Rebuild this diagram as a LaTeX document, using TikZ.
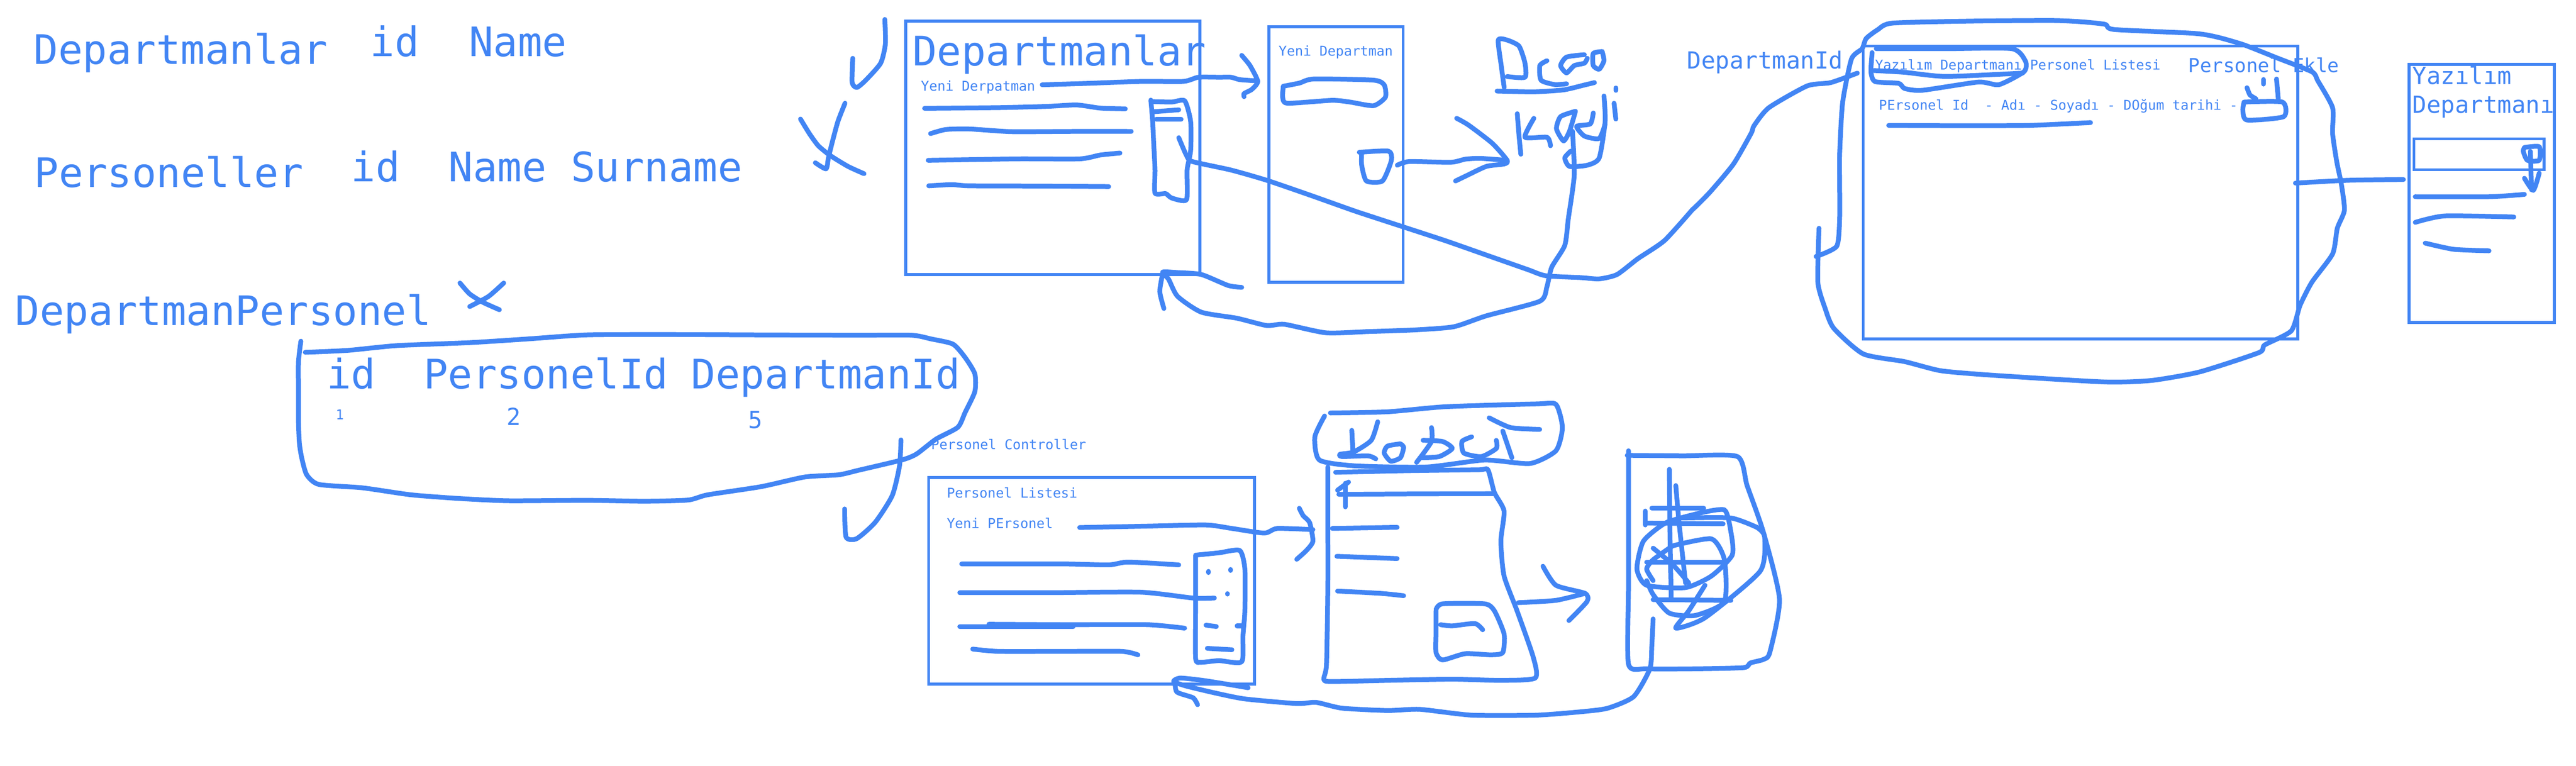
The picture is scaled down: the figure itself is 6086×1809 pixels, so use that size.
\documentclass[tikz,border=0pt]{standalone}
\usepackage{fontspec}
\setmainfont{DejaVu Sans Mono}
\definecolor{ink}{HTML}{4285F4}
\tikzset{
  hand/.style={draw=ink,line width=3.2pt,line cap=round,line join=round},
  frame/.style={draw=ink,line width=2pt},
  lbl/.style={inner sep=0pt,outer sep=0pt,anchor=base west,text=ink},
  big/.style={lbl,font=\fontsize{27.3}{30}\selectfont},
  mid/.style={lbl,font=\fontsize{15.8}{18}\selectfont},
  sml/.style={lbl,font=\fontsize{12.95}{15}\selectfont},
  tin/.style={lbl,font=\fontsize{9.1}{11}\selectfont},
  zA/.style={shift={(0,0)},xscale=1.2755,yscale=.574},
  zB/.style={shift={(1800,0)},xscale=1.403,yscale=.574},
  zC/.style={shift={(3900,0)},xscale=1.3947,yscale=.606},
  zD/.style={shift={(1900,950)},xscale=1.531,yscale=.548},
  zE/.style={shift={(650,750)},xscale=1.148,yscale=.3508},
}
\newcommand{\sk}[1]{\draw[hand] plot[smooth,tension=.38] coordinates {#1};}
\begin{document}
\begin{tikzpicture}[x=0.01cm,y=-0.01cm]
\useasboundingbox (0,0) rectangle (6086,1809);
\fill[white] (0,0) rectangle (6086,1809);

% texts
\node[big] (t1) at (80,152) {Departmanlar};
\node[big] (t2) at (875,133) {id};
\node[big] (t3) at (1108,133) {Name};
\node[big] (t4) at (81,443) {Personeller};
\node[big] (t5) at (830,429) {id};
\node[big] (t6) at (1060,429) {Name Surname};
\node[big] (t7) at (36,769) {DepartmanPersonel};
\node[big] (t8) at (772,918) {id};
\node[big] (t9) at (1001,918) {PersonelId};
\node[big] (t10) at (1633,918) {DepartmanId};
\node[tin] (n1) at (793,992) {1};
\node[mid] (n2) at (1197,1005) {2};
\node[mid] (n5) at (1768,1012) {5};

\node[big] (r1t) at (2156,155) {Departmanlar};
\node[tin] (r1y) at (2176,215) {Yeni Derpatman};
\node[tin] (r2y) at (3021,132) {Yeni Departman};
\node[mid] (did) at (3986,162) {DepartmanId};
\node[tin] (r3t) at (4430,165) {Yazılım Departmanı Personel Listesi};
\node[sml] (r3e) at (5170,171) {Personel Ekle};
\node[tin] (r3h) at (4439,260) {PErsonel Id~~- Adı - Soyadı - DOğum tarihi -};
\node[mid] (r4a) at (5700,199) {Yazılım};
\node[mid] (r4b) at (5700,267) {Departmanı};
\node[tin] (pc) at (2200,1062) {Personel Controller};
\node[tin] (pl) at (2237,1177) {Personel Listesi};
\node[tin] (yp) at (2237,1248) {Yeni PErsonel};

% frames
\draw[frame] (2140,50) rectangle (2835,649);
\draw[frame] (2998,63) rectangle (3315,667);
\draw[frame] (4402,109) rectangle (5429,801);
\draw[frame] (5692,152) rectangle (6035,762);
\draw[frame] (5703,328) rectangle (6010,401);
\draw[frame] (2194,1128) rectangle (2964,1616);

% X near DepartmanPersonel
\begin{scope}[zA]
\sk{(852,1165)(870,1210)(895,1245)(925,1275)}
\sk{(933,1165)(905,1220)(870,1262)}
\end{scope}

% blob around id row
\begin{scope}[zE]
\sk{(62,235)(150,222)(250,190)(400,170)(520,145)(640,118)(800,115)(1000,118)(1200,120)(1310,120)(1350,145)(1395,180)(1420,270)(1440,380)(1440,500)(1420,640)(1405,740)(1360,820)(1320,920)(1290,960)(1200,1030)(1160,1060)(1090,1075)(1000,1140)(890,1195)(850,1230)(760,1238)(640,1232)(480,1235)(380,1220)(280,1195)(180,1148)(90,1125)(65,1060)(55,950)(50,850)(48,700)(48,500)(48,300)(53,160)}
\sk{(1288,825)(1285,1000)(1270,1200)(1235,1380)(1197,1490)(1175,1480)(1172,1290)}
\end{scope}

% top middle
\begin{scope}[zB]
\sk{(207,80)(208,180)(200,260)(175,330)(160,360)(152,340)(153,240)}
\sk{(65,490)(80,550)(95,600)(115,640)(145,685)(172,715)}
\sk{(140,425)(128,500)(118,590)(112,650)(108,695)(90,670)}
\sk{(274,446)(400,443)(480,438)(530,432)(570,445)(612,448)}
\sk{(284,550)(310,533)(350,531)(420,542)(520,541)(622,541)}
\sk{(280,660)(430,654)(535,654)(570,638)(603,630)}
\sk{(281,765)(320,760)(350,765)(470,766)(584,768)}
\sk{(472,349)(550,343)(640,335)(710,335)(735,318)(770,318)(790,318)(805,328)(835,333)}
\sk{(808,228)(822,270)(835,335)(825,368)(812,385)(812,398)}
\sk{(655,412)(658,500)(660,600)(662,700)(662,795)(680,797)(690,815)(715,822)(716,700)(722,620)(722,500)(712,415)(690,420)(655,418)}
\sk{(660,460)(702,452)}
\sk{(664,491)(706,491)}
\sk{(702,567)(715,640)(725,665)(790,700)(850,742)(925,805)(1000,870)(1075,930)(1150,990)(1220,1050)(1290,1110)(1320,1135)(1380,1143)(1410,1148)(1440,1130)(1475,1065)(1520,990)(1568,860)}
\sk{(1365,540)(1368,720)(1358,900)(1352,1010)(1330,1100)(1322,1180)(1310,1240)(1220,1300)(1165,1345)(1100,1358)(1020,1365)(950,1370)(880,1335)(850,1340)(800,1310)(740,1285)(700,1220)(685,1150)(675,1120)(700,1122)(740,1130)(785,1175)(808,1183)}
\sk{(675,1125)(670,1200)(677,1270)}
\sk{(1070,680)(1090,665)(1160,668)(1185,655)(1210,652)(1255,660)}
\sk{(1170,487)(1190,515)(1230,590)(1255,660)(1250,675)(1220,685)(1185,725)(1168,745)}
\sk{(1006,627)(1055,622)(1060,660)(1045,745)(1018,745)(1010,680)(1010,630)}
\sk{(878,355)(905,342)(930,325)(1030,330)(1048,350)(1050,400)(1030,435)(990,420)(960,413)(885,425)(877,400)(878,355)}
% handwriting
\sk{(1250,360)(1245,270)(1240,165)(1255,165)(1275,190)(1285,260)(1285,318)(1255,315)}
\sk{(1238,375)(1300,378)(1350,370)(1385,350)(1402,340)}
\sk{(1322,250)(1310,270)(1312,330)(1335,348)(1355,345)}
\sk{(1385,225)(1355,235)(1345,270)(1355,300)(1368,270)(1385,260)(1390,240)}
\sk{(1415,212)(1400,220)(1400,270)(1410,285)(1418,250)(1415,212)}
\sk{(1438,362)(1438,372)}
\sk{(1272,468)(1275,560)(1278,635)}
\sk{(1300,487)(1285,565)(1322,565)(1328,600)}
\sk{(1370,458)(1345,480)(1338,530)(1350,580)(1360,540)(1370,458)}
\sk{(1418,395)(1420,500)(1410,650)(1390,680)(1360,685)(1352,650)(1362,622)}
\sk{(1400,465)(1395,510)(1372,520)(1385,560)(1410,570)(1420,510)}
\sk{(1435,425)(1438,490)}
\end{scope}

% top right
\begin{scope}[zC]
\sk{(72,815)(100,750)(140,640)(170,520)(175,490)(200,420)(265,335)(305,322)(350,285)}
\sk{(285,890)(283,1100)(295,1200)(310,1280)(360,1380)(430,1410)(490,1445)(560,1460)(680,1478)(780,1490)(850,1483)(930,1450)(1030,1375)(1040,1345)(1085,1290)(1100,1190)(1120,1100)(1155,990)(1163,890)(1175,820)(1170,720)(1162,630)(1155,520)(1155,420)(1130,315)(1120,280)(1060,225)(1005,175)(960,145)(920,130)(785,115)(770,95)(730,85)(680,80)(550,82)(410,90)(385,115)(365,150)(358,190)(340,230)(325,400)(320,600)(320,720)(320,850)(315,960)(280,1000)}
\sk{(382,190)(500,190)(612,190)(635,240)(632,280)(590,330)(555,320)(460,352)(430,345)(420,325)(380,318)(373,280)(375,205)}
\sk{(378,275)(430,282)(500,298)(630,285)}
\sk{(403,489)(520,490)(640,489)(745,478)}
\sk{(1005,398)(1070,398)(1072,455)(1010,468)(1003,430)(1005,398)}
\sk{(1010,342)(1015,370)(1025,385)}
\sk{(1038,310)(1038,328)}
\sk{(1060,308)(1063,385)}
\sk{(1092,714)(1180,703)(1275,700)}
\sk{(1295,767)(1420,767)(1480,758)}
\sk{(1295,867)(1345,842)(1462,846)}
\sk{(1312,948)(1360,972)(1420,978)}
\sk{(1480,575)(1505,572)(1505,625)(1485,625)(1478,590)(1480,575)}
\sk{(1490,590)(1492,740)}
\sk{(1480,695)(1495,742)(1505,675)}
\end{scope}

% bottom
\begin{scope}[zD]
\sk{(243,698)(400,698)(470,702)(500,690)(578,702)}
\sk{(240,822)(380,822)(520,820)(600,845)(633,845)}
\sk{(240,968)(415,968)}
\sk{(285,958)(410,960)(530,960)(587,975)}
\sk{(260,1065)(300,1075)(400,1075)(490,1075)(515,1090)}
\sk{(425,541)(530,535)(620,530)(660,545)(710,565)(730,545)(785,550)}
\sk{(764,458)(770,490)(780,520)(785,600)(775,640)(760,678)}
\sk{(604,660)(640,650)(672,640)(680,720)(680,900)(677,1010)(675,1120)(640,1115)(612,1122)(604,1105)(604,880)(604,660)}
\sk{(624,730)(624,735)}
\sk{(658,722)(658,726)}
\sk{(653,826)(653,828)}
\sk{(620,962)(636,968)}
\sk{(668,965)(675,965)}
\sk{(622,1062)(660,1068)}
\sk{(1310,935)(1308,1050)(1305,1150)(1280,1270)(1240,1320)(1200,1335)(1130,1350)(1030,1350)(950,1325)(900,1330)(830,1320)(790,1295)(760,1300)(680,1280)(635,1255)(590,1225)(570,1205)(580,1190)(615,1200)(660,1220)(685,1232)}
\sk{(572,1200)(575,1250)(600,1275)(607,1305)}
\sk{(808,280)(808,500)(808,800)(806,1130)(802,1190)(810,1205)(900,1200)(1000,1195)(1075,1200)(1128,1190)(1125,1100)(1100,900)(1080,750)(1075,600)(1080,470)(1065,390)(1055,292)(1040,292)(930,296)(820,303)}
\sk{(812,47)(900,42)(990,20)(1130,8)(1160,10)(1170,110)(1160,210)(1120,265)(1050,250)(960,280)(850,275)(795,250)(788,150)(803,60)}
\sk{(845,122)(847,225)}
\sk{(885,85)(875,165)(848,215)(827,225)(830,235)(870,232)(882,245)}
\sk{(920,180)(900,190)(895,220)(905,255)(920,240)(925,195)(920,180)}
\sk{(968,110)(968,170)(945,260)}
\sk{(955,165)(985,170)(1000,200)(980,235)(952,240)}
\sk{(1030,150)(1015,170)(1018,220)(1045,235)(1068,200)(1068,165)}
\sk{(1078,125)(1092,240)}
\sk{(1057,68)(1090,110)(1135,118)}
\sk{(823,380)(840,345)}
\sk{(835,350)(835,452)}
\sk{(825,398)(945,396)(1065,395)}
\sk{(815,545)(915,540)}
\sk{(822,665)(915,675)}
\sk{(823,815)(890,825)(925,835)}
\sk{(975,895)(985,870)(1050,870)(1065,900)(1080,1000)(1078,1080)(1060,1090)(1020,1085)(985,1112)(975,1080)(975,990)(975,900)}
\sk{(982,960)(1000,965)(1035,955)(1047,982)}
\sk{(1102,865)(1160,855)(1205,825)}
\sk{(1140,708)(1160,790)(1205,825)(1208,860)(1180,942)}
\sk{(1270,230)(1355,232)(1440,235)(1455,360)(1480,560)(1505,850)(1490,1080)(1480,1110)(1460,1125)(1450,1145)(1380,1150)(1300,1150)(1272,1130)(1272,800)(1272,500)(1272,210)}
\sk{(1335,290)(1336,570)(1338,850)}
\sk{(1345,360)(1350,520)(1360,780)}
\sk{(1308,457)(1388,457)}
\sk{(1300,522)(1418,525)}
\sk{(1300,690)(1418,690)}
\sk{(1310,852)(1430,855)}
\sk{(1298,470)(1298,530)}
\sk{(1380,480)(1420,465)(1430,560)(1432,660)(1400,750)(1360,800)(1300,790)(1285,720)(1295,600)(1330,520)(1380,480)}
\sk{(1470,540)(1430,500)(1355,500)}
\sk{(1310,630)(1340,700)(1365,780)}
\sk{(1340,620)(1400,590)(1420,680)(1420,860)(1375,920)(1335,910)(1310,830)(1300,770)}
\sk{(1390,790)(1365,900)(1345,975)(1390,930)(1475,730)(1482,580)(1470,540)}
\sk{(1340,620)(1310,680)(1300,720)(1310,770)}
\end{scope}
\end{tikzpicture}
\end{document}
